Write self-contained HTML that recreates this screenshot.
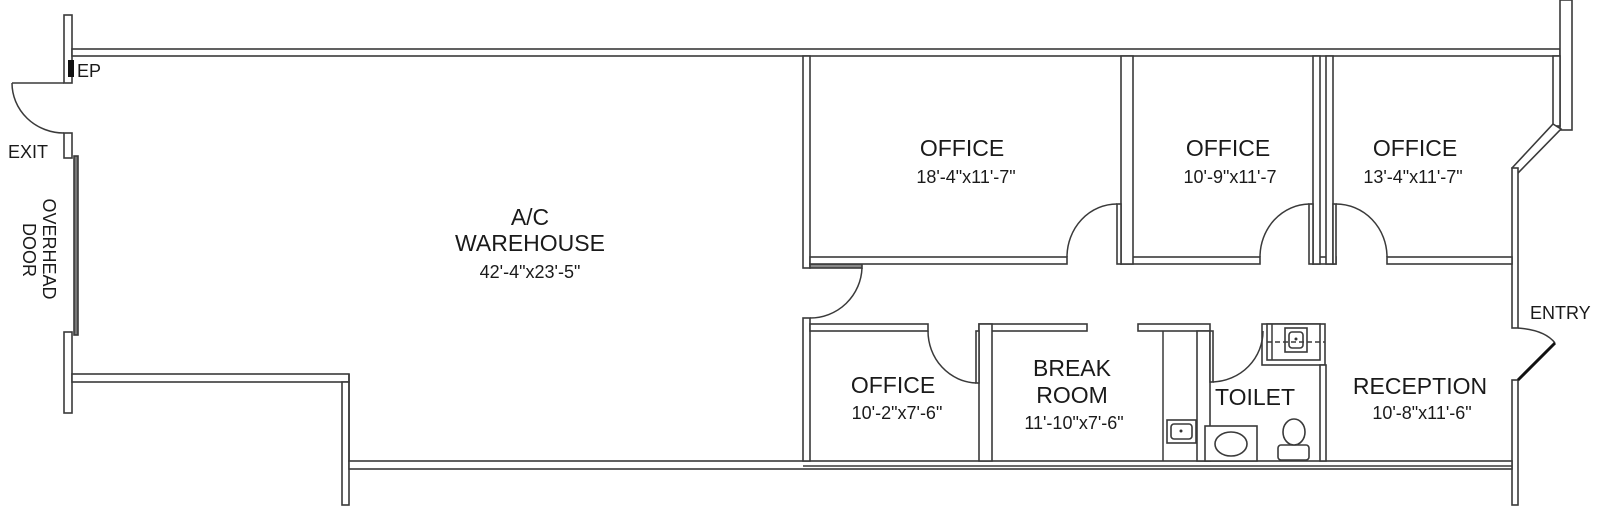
<!DOCTYPE html>
<html><head><meta charset="utf-8"><style>
html,body{margin:0;padding:0;background:#fff;}
svg{display:block;}
text{font-family:"Liberation Sans",Arial,sans-serif;fill:#1a1a1a;}
</style></head><body>
<svg width="1600" height="513" viewBox="0 0 1600 513" xmlns="http://www.w3.org/2000/svg">
<g fill="#fff" stroke="#3a3a3a" stroke-width="1.6">
  <!-- left exterior -->
  <rect x="64" y="15" width="8" height="68"/>
  <line x1="12" y1="83" x2="64" y2="83"/>
  <rect x="64" y="133" width="8" height="25"/>
  <rect x="74" y="156" width="4" height="179" fill="#777"/>
  <rect x="64" y="332" width="8" height="81"/>
  <!-- top wall -->
  <rect x="72" y="49" width="1488" height="7"/>
  <!-- right exterior -->
  <rect x="1560" y="0" width="12" height="130"/>
  <rect x="1553" y="56" width="7" height="70"/>
  <polygon points="1553,124 1561,129 1518,173 1512,168"/>
  <rect x="1512" y="168" width="6" height="160"/>
  <rect x="1512" y="380" width="6" height="125"/>
  <!-- warehouse lower wall -->
  <rect x="72" y="374" width="277" height="8"/>
  <rect x="342" y="382" width="7" height="123"/>
  <line x1="349" y1="374" x2="349" y2="462"/>
  <!-- bottom wall -->
  <rect x="349" y="461" width="1163" height="8"/>
  <line x1="803" y1="466" x2="1512" y2="466"/>
  <!-- warehouse / offices vertical wall -->
  <rect x="803" y="56" width="7" height="212"/>
  <rect x="803" y="318" width="7" height="143"/>
  <rect x="810" y="264" width="52" height="4" fill="#888"/>
  <!-- top offices bottom wall -->
  <rect x="810" y="257" width="257" height="7"/>
  <rect x="1121" y="257" width="139" height="7"/>
  <rect x="1313" y="257" width="23" height="7"/>
  <rect x="1387" y="257" width="125" height="7"/>
  <!-- top office verticals -->
  <rect x="1121" y="56" width="12" height="208"/>
  <rect x="1313" y="56" width="7" height="208"/>
  <rect x="1326" y="56" width="7" height="208"/>
  <!-- door leaves top -->
  <rect x="1117" y="204" width="4" height="60"/>
  <rect x="1309" y="204" width="4" height="60"/>
  <rect x="1333" y="204" width="3" height="60"/>
  <!-- lower row top walls -->
  <rect x="810" y="324" width="118" height="7"/>
  <rect x="979" y="324" width="108" height="7"/>
  <rect x="1138" y="324" width="72" height="7"/>
  <!-- lower verticals -->
  <rect x="979" y="324" width="13" height="137"/>
  <rect x="976" y="331" width="3" height="52"/>
  <rect x="1197" y="331" width="13" height="130"/>
  <rect x="1210" y="331" width="3" height="51"/>
  <!-- toilet fixture box -->
  <rect x="1262" y="324" width="63" height="41"/>
  <rect x="1320" y="365" width="6" height="96"/>
  <rect x="1267" y="324" width="53" height="36"/>
  <rect x="1205" y="426" width="52" height="35"/>
  <rect x="1167" y="420" width="29" height="23"/>
  <rect x="1171" y="424" width="21" height="15" rx="3"/>
  <rect x="1285" y="328" width="22" height="24"/>
  <rect x="1289" y="332" width="14" height="16" rx="3"/>
  <rect x="1278" y="445" width="31" height="15" rx="3"/>
  <ellipse cx="1294" cy="432" rx="11" ry="13"/>
  <ellipse cx="1231" cy="444" rx="16" ry="12"/>
</g>
<g fill="none" stroke="#3a3a3a" stroke-width="1.5">
  <line x1="1163" y1="331" x2="1163" y2="461"/>
  <line x1="1267" y1="342" x2="1325" y2="342" stroke-dasharray="5,3"/>
  <line x1="1272" y1="324" x2="1272" y2="360"/>
  <!-- door arcs -->
  <path d="M12,83 A52,50 0 0 0 64,133"/>
  <path d="M862,268 A52,52 0 0 1 810,318"/>
  <path d="M1067,257 A50,53 0 0 1 1117,204"/>
  <path d="M1260,257 A50,53 0 0 1 1309,204"/>
  <path d="M1336,204 A51,53 0 0 1 1387,257"/>
  <path d="M928,331 A50,52 0 0 0 976,383"/>
  <path d="M1213,382 A52,51 0 0 0 1263,331"/>
  <path d="M1518,328 Q1545,330 1555,343"/>
</g>
<line x1="1555" y1="343" x2="1518" y2="380" stroke="#111" stroke-width="3"/>
<rect x="68" y="60" width="6" height="17" fill="#111"/>
<circle cx="1181" cy="431" r="1.5" fill="#333"/>
<circle cx="1296" cy="339" r="1.5" fill="#333"/>
<g font-size="23" text-anchor="middle">
  <text x="530" y="225">A/C</text>
  <text x="530" y="251">WAREHOUSE</text>
  <text x="962" y="156">OFFICE</text>
  <text x="1228" y="156">OFFICE</text>
  <text x="1415" y="156">OFFICE</text>
  <text x="893" y="393">OFFICE</text>
  <text x="1072" y="376">BREAK</text>
  <text x="1072" y="403">ROOM</text>
  <text x="1255" y="405">TOILET</text>
  <text x="1420" y="394">RECEPTION</text>
</g>
<g font-size="18" text-anchor="middle">
  <text x="530" y="278">42'-4"x23'-5"</text>
  <text x="966" y="183">18'-4"x11'-7"</text>
  <text x="1230" y="183">10'-9"x11'-7</text>
  <text x="1413" y="183">13'-4"x11'-7"</text>
  <text x="897" y="419">10'-2"x7'-6"</text>
  <text x="1074" y="429">11'-10"x7'-6"</text>
  <text x="1422" y="419">10'-8"x11'-6"</text>
</g>
<g font-size="18">
  <text x="77" y="77">EP</text>
  <text x="8" y="158">EXIT</text>
  <text x="1530" y="319">ENTRY</text>
  <text transform="translate(43,249) rotate(90)" text-anchor="middle">OVERHEAD</text>
  <text transform="translate(23,250) rotate(90)" text-anchor="middle">DOOR</text>
</g>
</svg>
</body></html>
